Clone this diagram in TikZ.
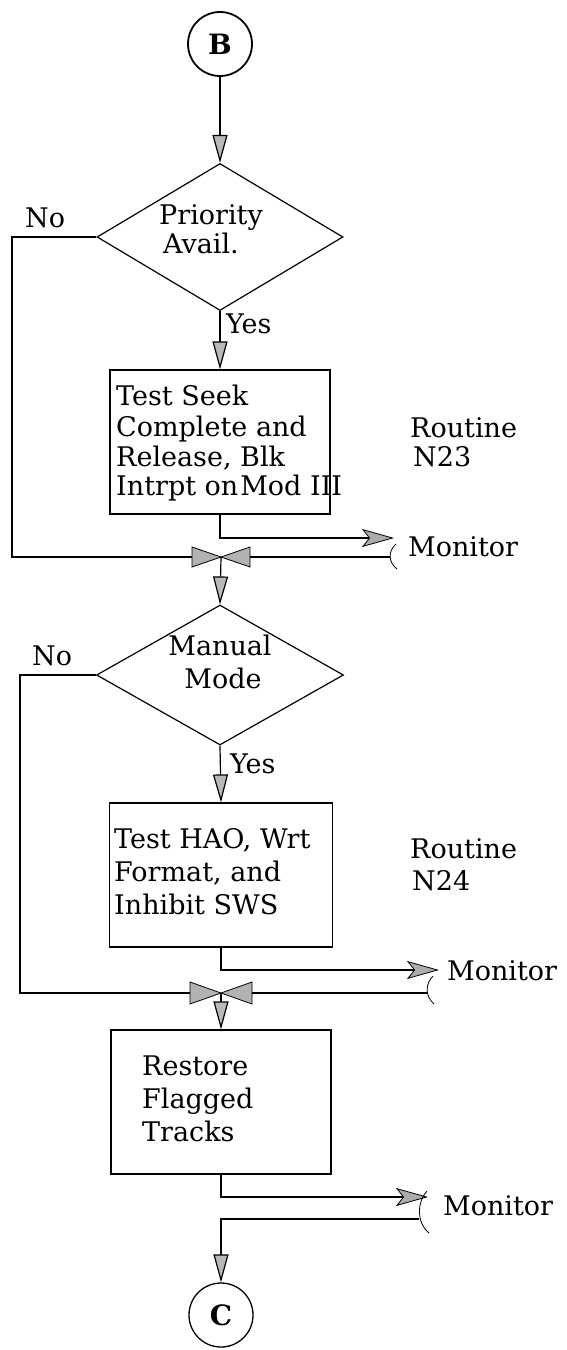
\documentclass[tikz,border=0pt]{standalone}
\usepackage{fontspec}
\setmainfont{DejaVu Serif}
\usetikzlibrary{shapes.geometric,arrows.meta}
\begin{document}
\begin{tikzpicture}[x=1pt,y=-1pt,
  txt/.style={font=\fontsize{27}{32}\selectfont, inner sep=0pt, anchor=base west},
  ctxt/.style={txt, anchor=base},
  flow/.style={line width=1.2pt},
  boxs/.style={draw, line width=1.2pt, rectangle, minimum width=220pt, minimum height=144pt, inner sep=0pt},
  dia/.style={draw, diamond, line width=1.2pt, inner sep=0pt},
  term/.style={draw, circle, minimum size=64pt, inner sep=0pt, line width=1.8pt, font=\fontsize{28}{32}\selectfont\bfseries},
  varr/.style={flow, -{Triangle[length=28pt,width=15pt,fill=gray!55]}},
  harr/.style={flow, -{Stealth[length=32pt,width=18pt,inset=7pt,fill=gray!65,line width=0.8pt]}},
  bowhalf/.style={draw=black, line width=0.8pt, fill=gray!60},
  brk/.style={line width=0.8pt},
]
\path[fill=white,use as bounding box] (0,0) rectangle (566,1350);

% ---------- terminal B and first decision ----------
\node[term] (B) at (220,44) {B};
\node[dia, minimum width=246pt, minimum height=147pt] (d1) at (220,237) {};
\node[txt] (d1a) at (159,224) {Priority};
\node[txt] (d1b) at (163,253) {Avail.};
\draw[varr] (B.south) -- (d1.north);

\node[txt] (no1) at (25,227) {No};
\coordinate (n1a) at (12,237);
\coordinate (n1b) at (12,557);

\node[txt] (yes1) at (226,333) {Yes};

% ---------- box 1 ----------
\node[boxs] (b1) at (220,442) {};
\node[txt] (b1a) at (116,405) {Test Seek};
\node[txt] (b1b) at (116,436) {Complete and};
\node[txt] (b1c) at (116,466) {Release, Blk};
\node[txt] (b1d) at (116,495) {Intrpt on\kern2pt Mod III};
\draw[varr] (d1.south) -- (b1.north);

\node[txt] (r1a) at (410,437) {Routine};
\node[txt] (r1b) at (413,466) {N23};

% monitor 1
\coordinate (m1a) at (220,538);
\coordinate (m1t) at (394,538);
\draw[harr] (b1.south) -- (m1a) -- (m1t);
\coordinate (k1) at (390,557);
\draw[brk] (396,544) .. controls (388,551) and (388,562) .. (397,569);
\node[txt] (mon1) at (408,556) {Monitor};

% junction 1
\coordinate (j1) at (221,557);
\coordinate (j1l) at (192,557);
\coordinate (j1r) at (250,557);
\draw[bowhalf] (192,547) -- (j1) -- (192,567) -- cycle;
\draw[bowhalf] (250,547) -- (j1) -- (250,567) -- cycle;
\draw[flow] (d1.west) -- (n1a) -- (n1b) -- (j1l);
\draw[flow] (k1) -- (j1r);

% ---------- second decision ----------
\node[dia, minimum width=247pt, minimum height=140pt] (d2) at (220,675) {};
\node[ctxt] (d2a) at (220,655) {Manual};
\node[ctxt] (d2b) at (223,688) {Mode};
\draw[varr] (j1) -- (d2.north);

\node[txt] (no2) at (32,665) {No};
\coordinate (n2a) at (20,675);
\coordinate (n2b) at (20,993);

\node[txt] (yes2) at (230,773) {Yes};

% ---------- box 2 ----------
\node[boxs, minimum width=223pt] (b2) at (221,875) {};
\node[txt] (b2a) at (114,848) {Test HAO, Wrt};
\node[txt] (b2b) at (114,881) {Format, and};
\node[txt] (b2c) at (114,914) {Inhibit SWS};
\draw[varr] (d2.south) -- (b2.north);

\node[txt] (r2a) at (410,858) {Routine};
\node[txt] (r2b) at (412,890) {N24};

% monitor 2
\coordinate (m2a) at (221,970);
\coordinate (m2t) at (439,970);
\draw[harr] (b2.south) -- (m2a) -- (m2t);
\coordinate (k2) at (427,993);
\draw[brk] (433,976) .. controls (425,984) and (425,996) .. (434,1004);
\node[txt] (mon2) at (447,980) {Monitor};

% junction 2
\coordinate (j2) at (221,993);
\coordinate (j2l) at (190,993);
\coordinate (j2r) at (252,993);
\draw[bowhalf] (190,982) -- (j2) -- (190,1004) -- cycle;
\draw[bowhalf] (252,982) -- (j2) -- (252,1004) -- cycle;
\draw[flow] (d2.west) -- (n2a) -- (n2b) -- (j2l);
\draw[flow] (k2) -- (j2r);

% ---------- box 3 ----------
\node[boxs] (b3) at (221,1102) {};
\node[txt] (b3a) at (142,1075) {Restore};
\node[txt] (b3b) at (142,1108) {Flagged};
\node[txt] (b3c) at (142,1141) {Tracks};
\draw[varr] (j2) -- (b3.north);

% monitor 3
\coordinate (m3a) at (221,1197);
\coordinate (m3t) at (428,1197);
\draw[harr] (b3.south) -- (m3a) -- (m3t);
\coordinate (k3) at (419,1219);
\coordinate (k3b) at (221,1219);
\draw[brk] (427,1191) .. controls (417,1202) and (416,1222) .. (429,1233);
\node[txt] (mon3) at (443,1215) {Monitor};

% terminal C
\node[term, line width=1.3pt] (C) at (221,1315) {C};
\draw[varr] (k3) -- (k3b) -- (C.north);
\end{tikzpicture}
\end{document}
